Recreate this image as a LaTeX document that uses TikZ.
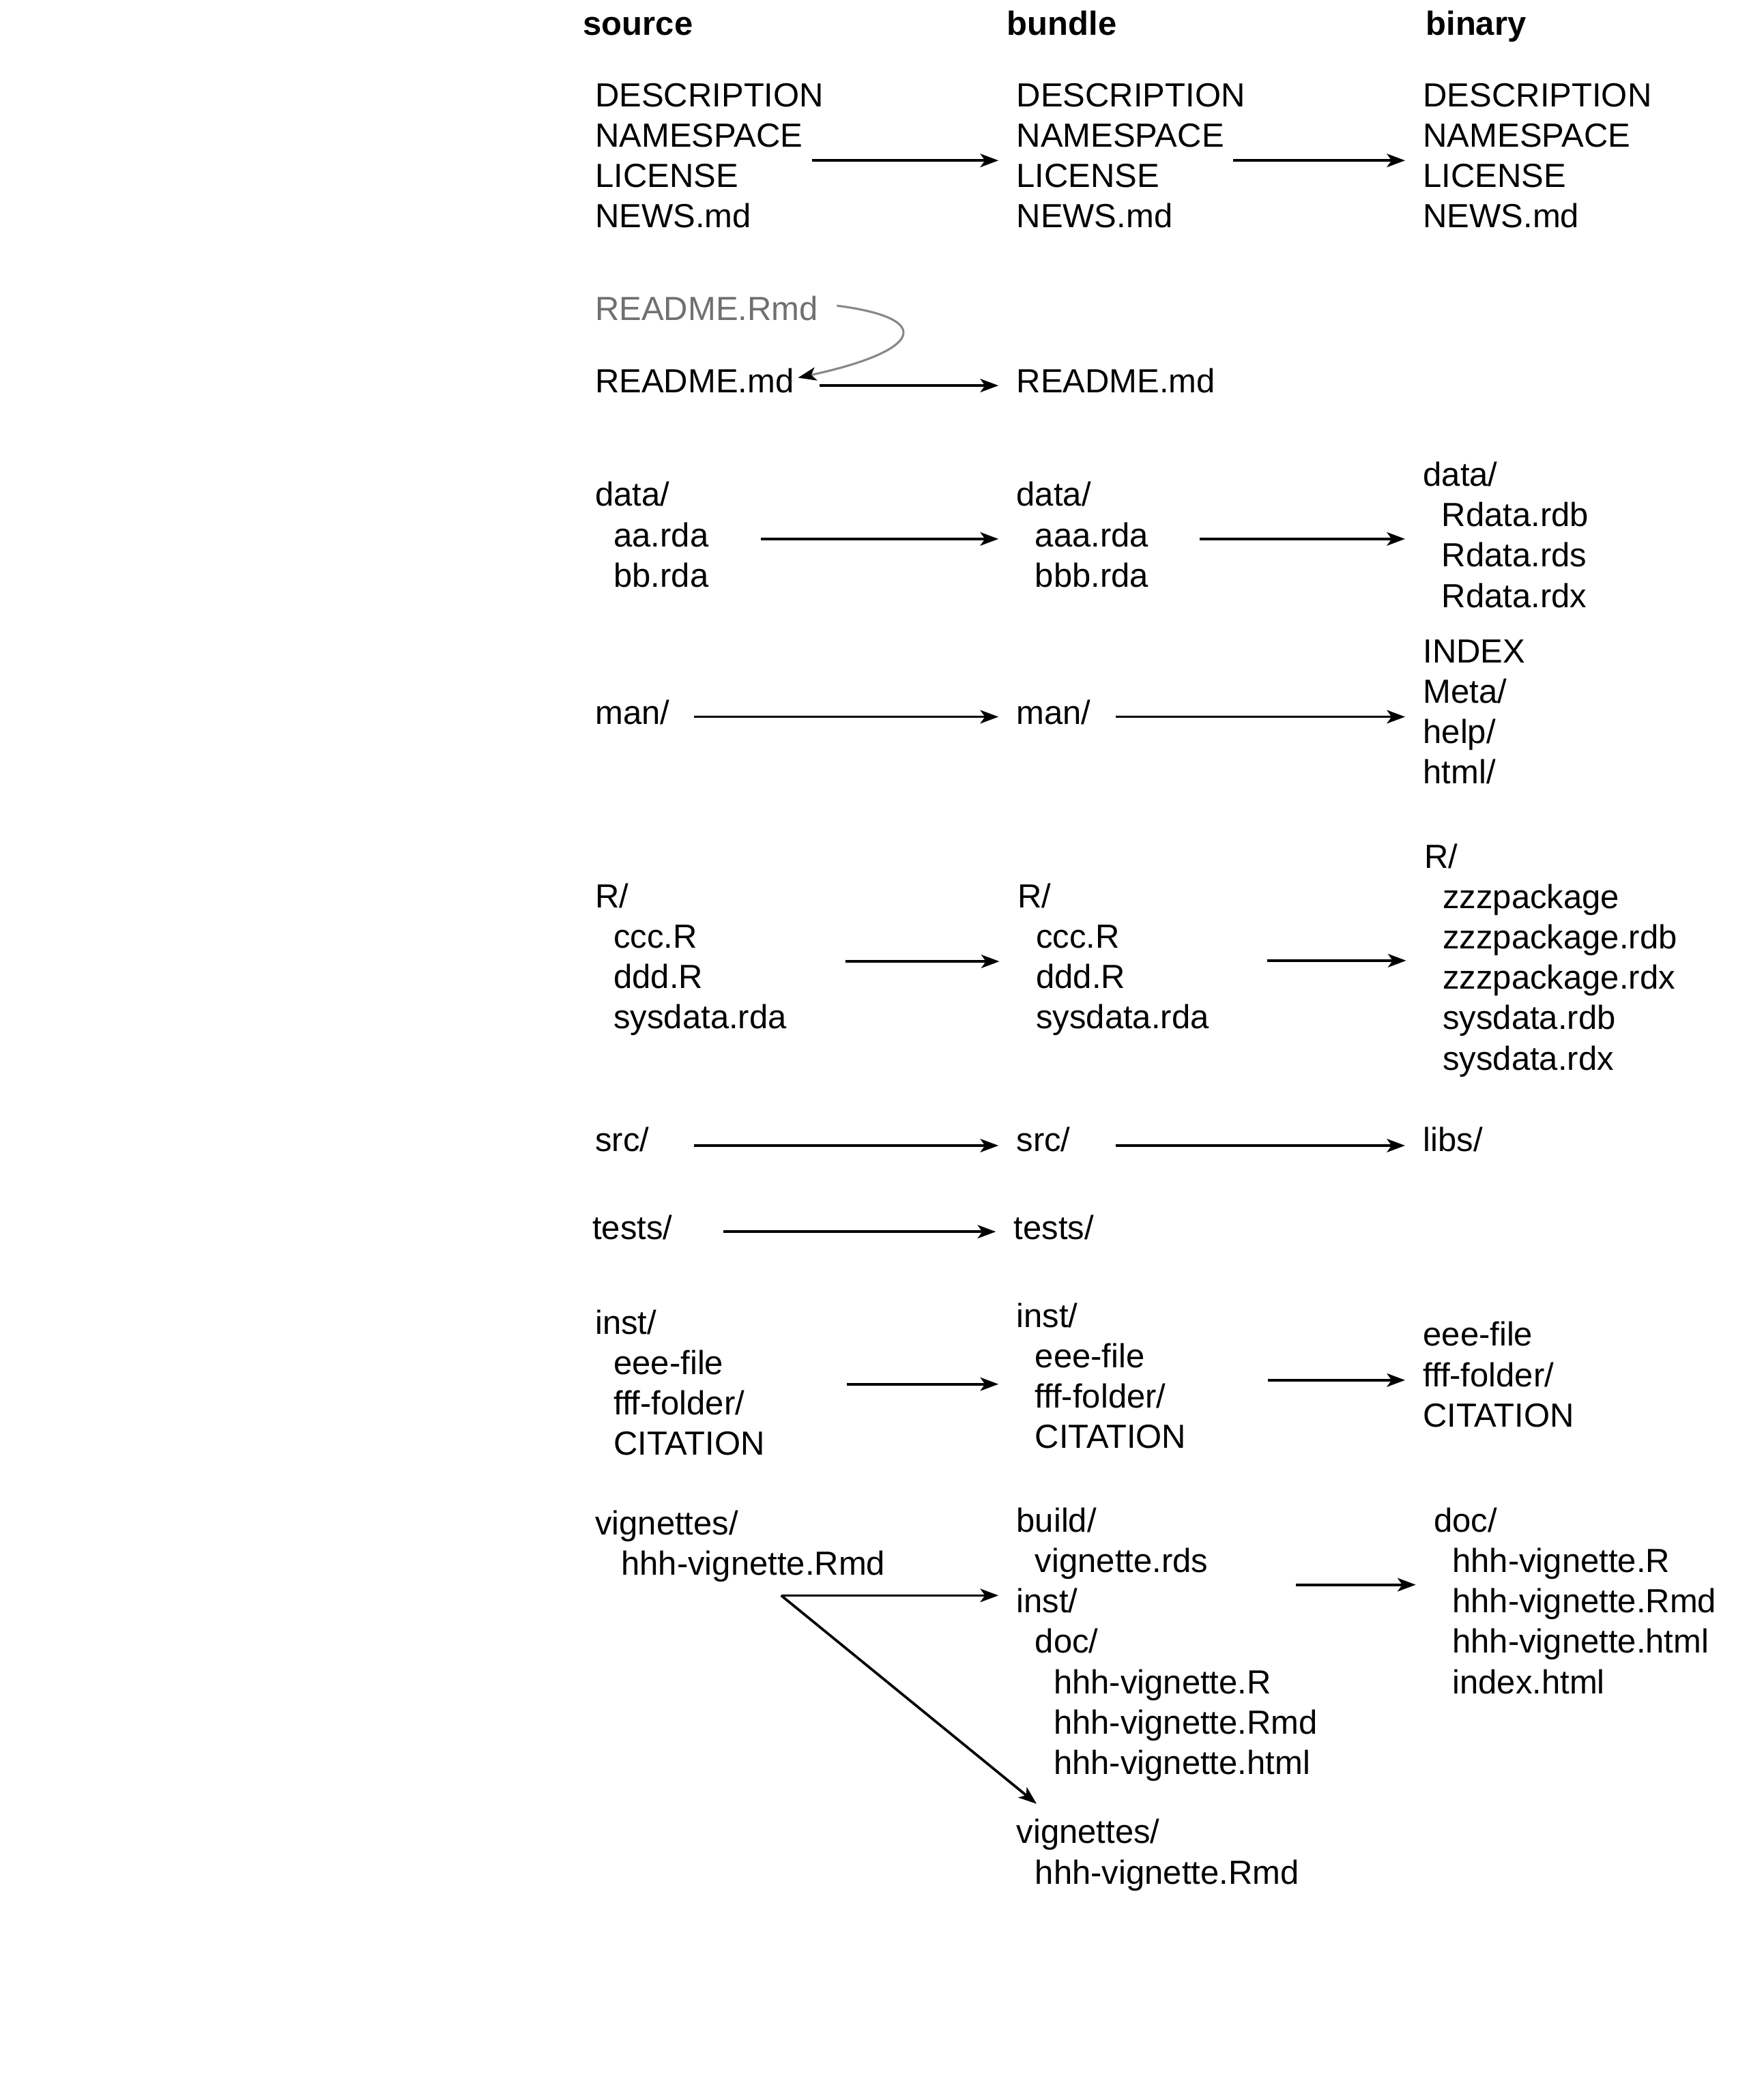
\documentclass[tikz,border=0pt]{standalone}
\usepackage{fontspec}
\setmainfont{Liberation Sans}
\usetikzlibrary{arrows.meta}
\def\ind#1{\hspace*{#1\fontdimen2\font}}
\def\dirlist#1{\begin{tabular}[t]{@{}l@{}}#1\end{tabular}}
\definecolor{rmdgray}{RGB}{112,112,112}
\definecolor{curvegray}{RGB}{136,136,136}

\begin{document}
\begin{tikzpicture}[x=1pt,y=1pt,yscale=-1,
	filelist/.style={anchor=base west,inner sep=0pt,outer sep=0pt,font=\fontsize{25}{30.2}\selectfont},
	colhead/.style={filelist,font=\fontsize{25}{30.2}\selectfont\bfseries},
	flow/.style={line width=1.9pt,shorten >=13.5pt,-{Stealth[length=13.6pt,width=10pt,inset=3.5pt]}}]
	\useasboundingbox (0,0) rectangle (1318.4,1567.3);
	\node [colhead] (hsrc) at (436,26.2) {source};
	\node [colhead] (hbun) at (753,26.2) {bundle};
	\node [colhead] (hbin) at (1066,26.2) {binary};
	\node [filelist] (srcmeta) at (445,79.6) {\dirlist{DESCRIPTION\\NAMESPACE\\LICENSE\\NEWS.md}};
	\node [filelist,text=rmdgray] (srcrmd) at (445,239.5) {README.Rmd};
	\node [filelist] (srcmd) at (445,293.4) {README.md};
	\node [filelist] (srcdata) at (445,378.5) {\dirlist{data/\\\ind2aa.rda\\\ind2bb.rda}};
	\node [filelist] (srcman) at (445,541.5) {man/};
	\node [filelist] (srcR) at (445,678.6) {\dirlist{R/\\\ind2ccc.R\\\ind2ddd.R\\\ind2sysdata.rda}};
	\node [filelist] (srcsrc) at (445,860.7) {src/};
	\node [filelist] (srctests) at (443,927) {tests/};
	\node [filelist] (srcinst) at (445,997.5) {\dirlist{inst/\\\ind2eee-file\\\ind2fff-folder/\\\ind2CITATION}};
	\node [filelist] (srcvig) at (445,1147.5) {\dirlist{vignettes/\\\ind{2.8}hhh-vignette.Rmd}};
	\node [filelist] (bunmeta) at (760,79.6) {\dirlist{DESCRIPTION\\NAMESPACE\\LICENSE\\NEWS.md}};
	\node [filelist] (bunmd) at (760,293.4) {README.md};
	\node [filelist] (bundata) at (760,378.5) {\dirlist{data/\\\ind2aaa.rda\\\ind2bbb.rda}};
	\node [filelist] (bunman) at (760,541.5) {man/};
	\node [filelist] (bunR) at (760.7,678.6) {\dirlist{R/\\\ind2ccc.R\\\ind2ddd.R\\\ind2sysdata.rda}};
	\node [filelist] (bunsrc) at (760,860.7) {src/};
	\node [filelist] (buntests) at (758,927) {tests/};
	\node [filelist] (buninst) at (760,992.5) {\dirlist{inst/\\\ind2eee-file\\\ind2fff-folder/\\\ind2CITATION}};
	\node [filelist] (bunbuild) at (760,1145.5) {\dirlist{build/\\\ind2vignette.rds\\inst/\\\ind2doc/\\\ind4hhh-vignette.R\\\ind4hhh-vignette.Rmd\\\ind4hhh-vignette.html}};
	\node [filelist] (bunvig) at (760,1378.5) {\dirlist{vignettes/\\\ind2hhh-vignette.Rmd}};
	\node [filelist] (binmeta) at (1064,79.6) {\dirlist{DESCRIPTION\\NAMESPACE\\LICENSE\\NEWS.md}};
	\node [filelist] (bindata) at (1064,363.5) {\dirlist{data/\\\ind2Rdata.rdb\\\ind2Rdata.rds\\\ind2Rdata.rdx}};
	\node [filelist] (binman) at (1064,495.5) {\dirlist{INDEX\\Meta/\\help/\\html/}};
	\node [filelist] (binR) at (1064.8,649) {\dirlist{R/\\\ind2zzzpackage\\\ind2zzzpackage.rdb\\\ind2zzzpackage.rdx\\\ind2sysdata.rdb\\\ind2sysdata.rdx}};
	\node [filelist] (binsrc) at (1064,860.7) {libs/};
	\node [filelist] (bininst) at (1064,1006.5) {\dirlist{eee-file\\fff-folder/\\CITATION}};
	\node [filelist] (bindoc) at (1072,1145.5) {\dirlist{doc/\\\ind2hhh-vignette.R\\\ind2hhh-vignette.Rmd\\\ind2hhh-vignette.html\\\ind2index.html}};
	\coordinate (metaA) at (607,120);
	\coordinate (metaB) at (922,120);
	\coordinate (mdA) at (612.8,288.3);
	\coordinate (dataA) at (569,403);
	\coordinate (dataB) at (897,403);
	\coordinate (manA) at (519,536);
	\coordinate (manB) at (834,536);
	\coordinate (rA) at (632,718.9);
	\coordinate (rB) at (947.4,718.3);
	\coordinate (srcA) at (519,856.6);
	\coordinate (srcB) at (834,856.6);
	\coordinate (testsA) at (541,921);
	\coordinate (instA) at (633,1035);
	\coordinate (instB) at (948,1032);
	\coordinate (vigA) at (584,1193);
	\coordinate (vigB) at (969,1185);
	\draw [flow] (metaA) -- (metaA -| bunmeta.west);
	\draw [flow] (metaB) -- (metaB -| binmeta.west);
	\draw [flow] (mdA) -- (mdA -| bunmd.west);
	\draw [curvegray,line width=1.6pt,-{Stealth[length=13.6pt,width=10pt,inset=3.5pt,color=black]}] ([xshift=14pt,yshift=-2pt]srcrmd.east) .. controls +(74,9.5) and +(93,-20) .. ([xshift=3pt,yshift=-2pt]srcmd.east);
	\draw [flow] (dataA) -- (dataA -| bundata.west);
	\draw [flow] (dataB) -- (dataB -| bindata.west);
	\draw [flow] (manA) -- (manA -| bunman.west);
	\draw [flow] (manB) -- (manB -| binman.west);
	\draw [flow] (rA) -- (rA -| bunR.west);
	\draw [flow] (rB) -- (rB -| binR.west);
	\draw [flow] (srcA) -- (srcA -| bunsrc.west);
	\draw [flow] (srcB) -- (srcB -| binsrc.west);
	\draw [flow] (testsA) -- (testsA -| buntests.west);
	\draw [flow] (instA) -- (instA -| buninst.west);
	\draw [flow] (instB) -- (instB -| bininst.west);
	\draw [flow] (vigA) -- (vigA -| bunbuild.west);
	\draw [flow] (vigA) -- ([xshift=25.5pt]bunvig.north west);
	\draw [flow] (vigB) -- (vigB -| bindoc.west);
\end{tikzpicture}
\end{document}
